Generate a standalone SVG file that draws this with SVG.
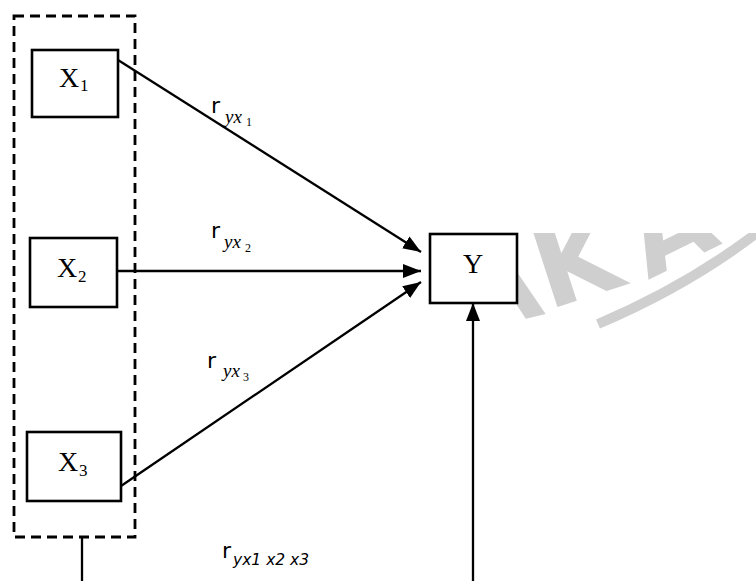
<svg xmlns="http://www.w3.org/2000/svg" width="756" height="581" viewBox="0 0 756 581">
<style>
.box{fill:#fff;stroke:#000;stroke-width:2.6}
.lbl{font-family:"Liberation Serif",serif;font-size:28px;fill:#000}
.sub{font-family:"Liberation Serif",serif;font-size:17px;fill:#000}
.conn{fill:none;stroke:#000;stroke-width:2.3}
.r{font-family:"DejaVu Sans",sans-serif;font-size:22px;fill:#000}
.ri{font-family:"Liberation Serif",serif;font-style:italic;font-size:19px;fill:#000}
.rn{font-family:"Liberation Serif",serif;font-size:12px;fill:#000}
.wm{font-family:"DejaVu Sans",sans-serif;font-weight:bold;font-size:108px;fill:#cfcfcf}
</style>
<defs>
<marker id="arr" viewBox="0 0 18 14" refX="18" refY="7" markerWidth="18" markerHeight="14" markerUnits="userSpaceOnUse" orient="auto">
<path d="M0,0 L18,7 L0,14 Z" fill="#000"/>
</marker>
<clipPath id="wmclip"><rect x="517" y="233" width="239" height="100"/></clipPath>
</defs>
<rect width="756" height="581" fill="#fff"/>
<g id="watermark" clip-path="url(#wmclip)">
<text class="wm" transform="translate(465,334) rotate(-14)">A</text>
<text class="wm" transform="translate(548,310) rotate(-18)">K</text>
<text class="wm" transform="translate(648,280) rotate(-26)">A</text>
<path d="M598,324 Q690,285 762,229" fill="none" stroke="#cfcfcf" stroke-width="10"/>
</g>
<g id="group">
<rect x="14" y="16" width="121" height="521" fill="none" stroke="#000" stroke-width="2.8" stroke-dasharray="10 6"/>
</g>
<g id="connectors">
<line class="conn" x1="118" y1="60" x2="421" y2="252" marker-end="url(#arr)"/>
<line class="conn" x1="118" y1="271" x2="421" y2="271" marker-end="url(#arr)"/>
<line class="conn" x1="121" y1="486" x2="421" y2="282" marker-end="url(#arr)"/>
<line class="conn" x1="82" y1="537" x2="82" y2="582"/>
<line class="conn" x1="473" y1="582" x2="473" y2="303" marker-end="url(#arr)"/>
<text class="r" x="211" y="113">r</text><text class="ri" x="225" y="123">yx</text><text class="rn" x="246" y="126">1</text>
<text class="r" x="211" y="238">r</text><text class="ri" x="224" y="248">yx</text><text class="rn" x="245" y="252">2</text>
<text class="r" x="207" y="368">r</text><text class="ri" x="223" y="377">yx</text><text class="rn" x="243" y="381">3</text>
<text class="r" x="222" y="558">r</text><text x="233" y="565" font-family="DejaVu Sans,sans-serif" font-style="italic" font-size="15.5px">yx1 x2 x3</text>
</g>
<g id="X1">
<rect class="box" x="32" y="50" width="86" height="67"/>
<text class="lbl" x="59" y="87">X</text><text class="sub" x="80" y="91">1</text>
</g>
<g id="X2">
<rect class="box" x="30" y="238" width="87" height="69"/>
<text class="lbl" x="57" y="277">X</text><text class="sub" x="78" y="282">2</text>
</g>
<g id="X3">
<rect class="box" x="27" y="432" width="94" height="69"/>
<text class="lbl" x="58" y="471">X</text><text class="sub" x="79" y="476">3</text>
</g>
<g id="Y">
<rect class="box" x="430" y="234" width="87" height="69"/>
<text class="lbl" x="463" y="273">Y</text>
</g>
</svg>
